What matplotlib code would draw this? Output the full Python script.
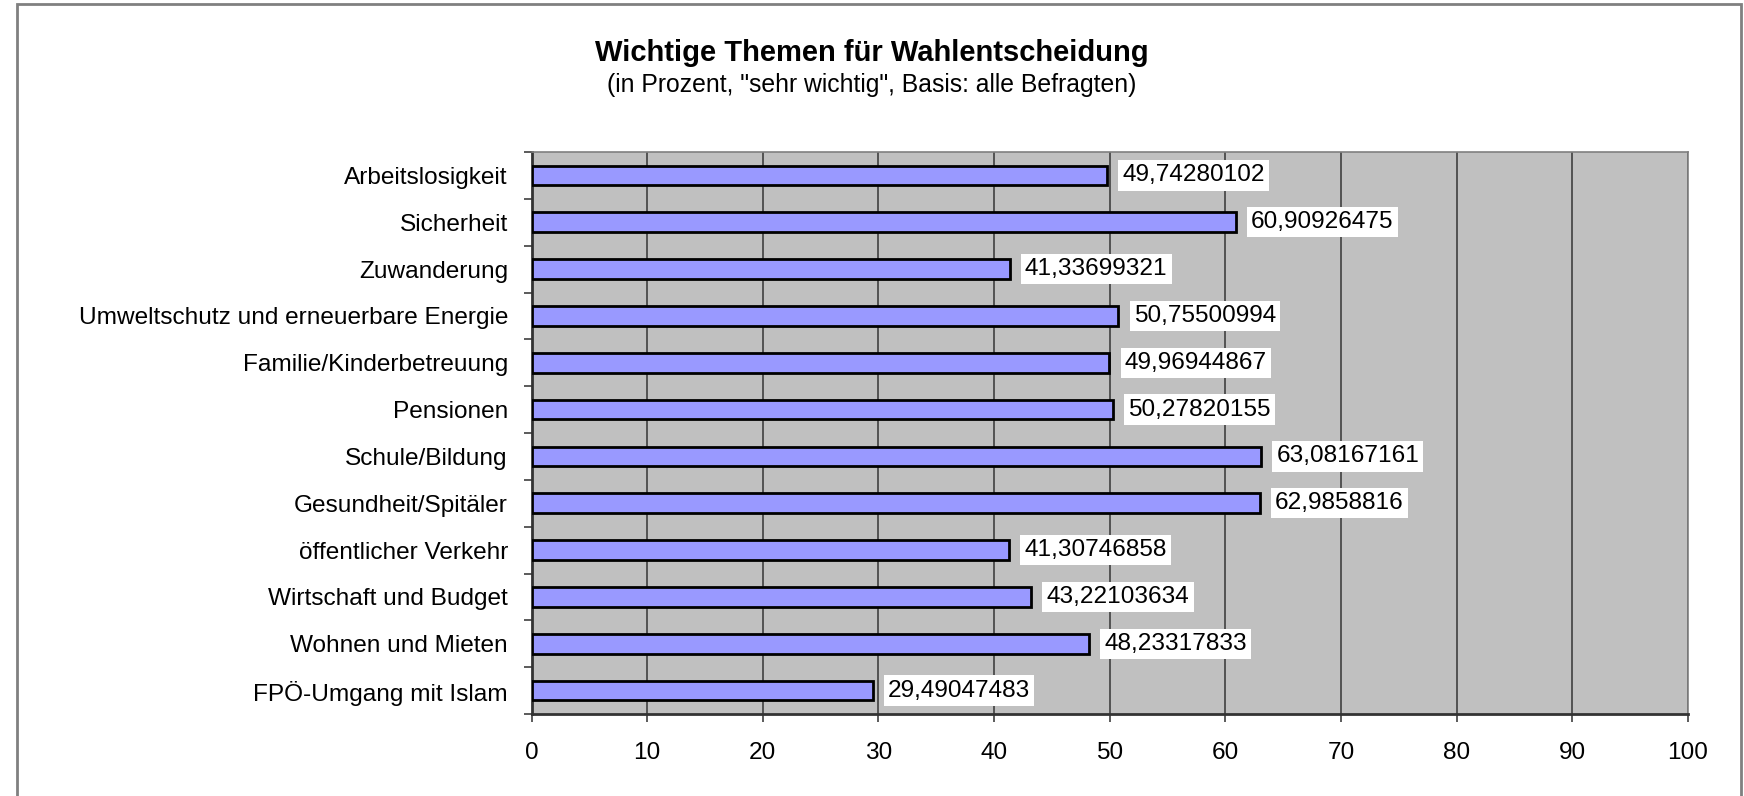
import matplotlib
matplotlib.use("Agg")
import matplotlib.pyplot as plt
from matplotlib.patches import Rectangle
import numpy as np

plt.rcParams['font.family'] = ['Liberation Sans', 'DejaVu Sans']

# Data (top to bottom as in the chart)
themen = ['Arbeitslosigkeit', 'Sicherheit', 'Zuwanderung',
          'Umweltschutz und erneuerbare Energie', 'Familie/Kinderbetreuung',
          'Pensionen', 'Schule/Bildung', 'Gesundheit/Spitäler',
          'öffentlicher Verkehr', 'Wirtschaft und Budget',
          'Wohnen und Mieten', 'FPÖ-Umgang mit Islam']
werte = [49.74280102, 60.90926475, 41.33699321, 50.75500994, 49.96944867,
         50.27820155, 63.08167161, 62.9858816, 41.30746858, 43.22103634,
         48.23317833, 29.49047483]
labels = ['49,74280102', '60,90926475', '41,33699321', '50,75500994',
          '49,96944867', '50,27820155', '63,08167161', '62,9858816',
          '41,30746858', '43,22103634', '48,23317833', '29,49047483']
x_ticks = list(range(0, 101, 10))

W, H = 1744, 796
fig = plt.figure(figsize=(W / 100, H / 100), dpi=100)
fig.patch.set_facecolor('white')

# outer frame of the chart
fig.patches.append(Rectangle((17 / W, -0.05), (1741 - 17) / W, 1.05 - 4 / H,
                             transform=fig.transFigure, fill=False,
                             edgecolor='#808080', linewidth=2))

ax = fig.add_axes([531.5 / W, 1 - 714 / H, (1688 - 531.5) / W, (714 - 152) / H])
ax.set_facecolor('#C0C0C0')

y_pos = np.arange(len(themen))
ax.barh(y_pos, werte, height=0.42, color='#9999FF', edgecolor='black',
        linewidth=2, zorder=3)

ax.set_xlim(0, 100)
ax.set_ylim(len(themen) - 0.5, -0.5)
ax.set_xticks(x_ticks)
ax.set_xticklabels([str(t) for t in x_ticks], fontsize=17.6)
ax.xaxis.grid(True, color='#404040', linewidth=1.2, zorder=1)
ax.set_axisbelow(True)

# category labels centred, tick marks between categories
ax.set_yticks(np.arange(len(themen) + 1) - 0.5)
ax.set_yticklabels([])
ax.set_yticks(y_pos, minor=True)
ax.set_yticklabels(themen, minor=True, fontsize=17.6)
ax.tick_params(axis='y', which='minor', length=0, pad=17)
ax.tick_params(axis='y', which='major', length=6, width=1.2, color='#404040')
ax.tick_params(axis='x', length=6, width=1.2, color='#404040', pad=14)

for s in ['top', 'right']:
    ax.spines[s].set_color('#808080')
    ax.spines[s].set_linewidth(1.2)
for s in ['left', 'bottom']:
    ax.spines[s].set_color('#333333')
    ax.spines[s].set_linewidth(2)

for i, v in enumerate(werte):
    ax.annotate(labels[i], xy=(v, i), xytext=(11, 0), textcoords='offset points',
                va='center', ha='left', fontsize=17.6, zorder=4,
                bbox=dict(facecolor='white', edgecolor='none', pad=3))

fig.text(0.5, 1 - 53 / H, 'Wichtige Themen für Wahlentscheidung',
         ha='center', va='center', fontsize=21, fontweight='bold')
fig.text(0.5, 1 - 85 / H, '(in Prozent, "sehr wichtig", Basis: alle Befragten)',
         ha='center', va='center', fontsize=17.8)

fig.savefig('out.png', dpi=100)
